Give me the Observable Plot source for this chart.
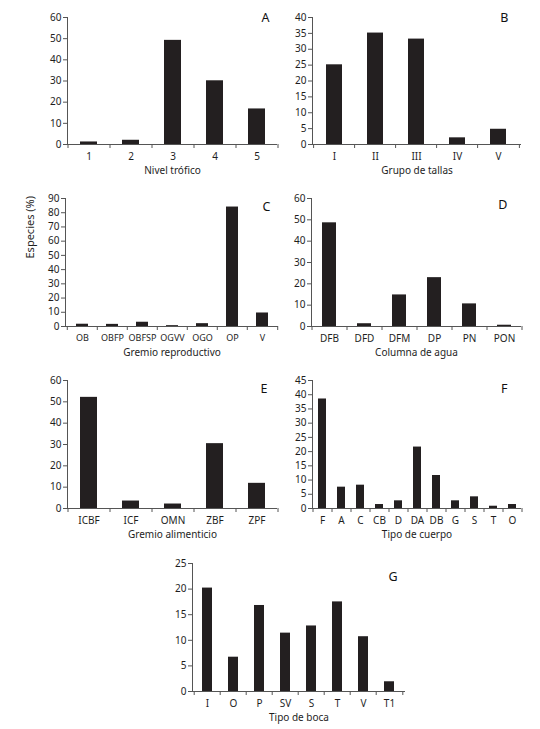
<!DOCTYPE html>
<html><head><meta charset="utf-8">
<script src="https://cdn.jsdelivr.net/npm/d3@7"></script>
<script src="https://cdn.jsdelivr.net/npm/@observablehq/plot@0.6"></script>
<style>
body{margin:0;background:#fff;}
#root{position:relative;width:540px;height:729px;font-family:"Noto Sans",sans-serif;}
#root > div{position:absolute;}
</style></head><body><div id="root"></div>
<script>
// Panel A — Nivel trófico
const catA = ["1","2","3","4","5"];
const valA = [1.2, 2, 49.2, 30.1, 16.8];
const ticksA = [0,10,20,30,40,50,60];
// Panel B — Grupo de tallas
const catB = ["I","II","III","IV","V"];
const valB = [25.1, 35.1, 33.2, 2.1, 4.8];
const ticksB = [0,5,10,15,20,25,30,35,40];
// Panel C — Gremio reproductivo
const catC = ["OB","OBFP","OBFSP","OGVV","OGO","OP","V"];
const valC = [1.6, 1.5, 3, 0.6, 2, 84, 9.5];
const ticksC = [0,10,20,30,40,50,60,70,80,90];
// Panel D — Columna de agua
const catD = ["DFB","DFD","DFM","DP","PN","PON"];
const valD = [48.6, 1.3, 14.8, 22.9, 10.6, 0.6];
const ticksD = [0,10,20,30,40,50,60];
// Panel E — Gremio alimenticio
const catE = ["ICBF","ICF","OMN","ZBF","ZPF"];
const valE = [52.1, 3.5, 2.1, 30.4, 11.8];
const ticksE = [0,10,20,30,40,50,60];
// Panel F — Tipo de cuerpo
const catF = ["F","A","C","CB","D","DA","DB","G","S","T","O"];
const valF = [38.5, 7.5, 8.2, 1.4, 2.7, 21.6, 11.6, 2.7, 4.1, 0.8, 1.4];
const ticksF = [0,5,10,15,20,25,30,35,40,45];
// Panel G — Tipo de boca
const catG = ["I","O","P","SV","S","T","V","T1"];
const valG = [20.2, 6.7, 16.8, 11.4, 12.8, 17.5, 10.7, 1.9];
const ticksG = [0,5,10,15,20,25];

const yLabel = "Especies (%)";

const panels = [
  {letter:"A", cats:catA, vals:valA, ticks:ticksA, xlabel:"Nivel trófico",
   left:0, top:0, width:290, height:182, mL:67, mR:13, mT:17, mB:38, ldx:-8, ldy:0, xfs:10},
  {letter:"B", cats:catB, vals:valB, ticks:ticksB, xlabel:"Grupo de tallas",
   left:280, top:0, width:260, height:182, mL:32, mR:19, mT:17, mB:38, ldx:-13, ldy:0, xfs:10},
  {letter:"C", cats:catC, vals:valC, ticks:ticksC, xlabel:"Gremio reproductivo",
   left:0, top:180, width:290, height:184, mL:65, mR:12, mT:18, mB:38, ldx:-8, ldy:8, ylab:true, xfs:9},
  {letter:"D", cats:catD, vals:valD, ticks:ticksD, xlabel:"Columna de agua",
   left:280, top:180, width:260, height:184, mL:31, mR:19, mT:18, mB:38, ldx:-14, ldy:6, xfs:10},
  {letter:"E", cats:catE, vals:valE, ticks:ticksE, xlabel:"Gremio alimenticio",
   left:0, top:362, width:290, height:184, mL:67, mR:13, mT:18, mB:38, ldx:-10, ldy:8, xfs:10},
  {letter:"F", cats:catF, vals:valF, ticks:ticksF, xlabel:"Tipo de cuerpo",
   left:280, top:362, width:260, height:184, mL:32, mR:19, mT:18, mB:38, ldx:-14, ldy:8, xfs:10},
  {letter:"G", cats:catG, vals:valG, ticks:ticksG, xlabel:"Tipo de boca",
   left:160, top:545, width:260, height:184, mL:32, mR:15, mT:18, mB:38, ldx:-8, ldy:13, xfs:10},
];

const root = document.getElementById("root");
const axisColor = "#555";
const textColor = "#1e1e1e";

for (const p of panels) {
  const data = p.cats.map((c, i) => ({cat: c, val: p.vals[i]}));
  const step = (p.width - p.mL - p.mR) / p.cats.length;
  const marks = [
    Plot.barY(data, {x: "cat", y: "val", fill: "#231f20"}),
    Plot.ruleY([0], {stroke: axisColor, strokeWidth: 1}),
    Plot.frame({anchor: "left", stroke: axisColor, strokeWidth: 1}),
    Plot.axisY({ticks: p.ticks, tickSize: 4, tickPadding: 2, label: null, stroke: axisColor, fill: textColor, fontSize: 10}),
    Plot.axisX({tickSize: 0, tickPadding: 8, label: null, fill: textColor, fontSize: p.xfs}),
    Plot.axisX({tickSize: 4, tickFormat: () => "", label: null, stroke: axisColor, dx: -step / 2}),
    Plot.axisX({ticks: [p.cats[p.cats.length - 1]], tickSize: 4, tickFormat: () => "", label: null, stroke: axisColor, dx: step / 2}),
    Plot.text([p.xlabel], {frameAnchor: "bottom", dy: 26, lineAnchor: "middle", fontSize: 10, fill: textColor}),
    Plot.text([p.letter], {frameAnchor: "top-right", textAnchor: "end", lineAnchor: "middle", dx: p.ldx, dy: p.ldy, fontSize: 12.5, fill: "#111"})
  ];
  if (p.ylab) {
    marks.push(Plot.text([yLabel], {frameAnchor: "left", rotate: -90, dx: -35, dy: -4, fontSize: 11, fill: textColor}));
  }
  const chart = Plot.plot({
    width: p.width, height: p.height,
    marginLeft: p.mL, marginRight: p.mR, marginTop: p.mT, marginBottom: p.mB,
    style: {fontFamily: '"Noto Sans", sans-serif', background: "transparent", overflow: "visible"},
    x: {type: "band", domain: p.cats, paddingInner: 0.6, paddingOuter: 0.3, axis: null},
    y: {domain: [0, p.ticks[p.ticks.length - 1]], axis: null},
    marks
  });
  const wrap = document.createElement("div");
  wrap.style.left = p.left + "px";
  wrap.style.top = p.top + "px";
  wrap.appendChild(chart);
  root.appendChild(wrap);
}
</script>
</body></html>
